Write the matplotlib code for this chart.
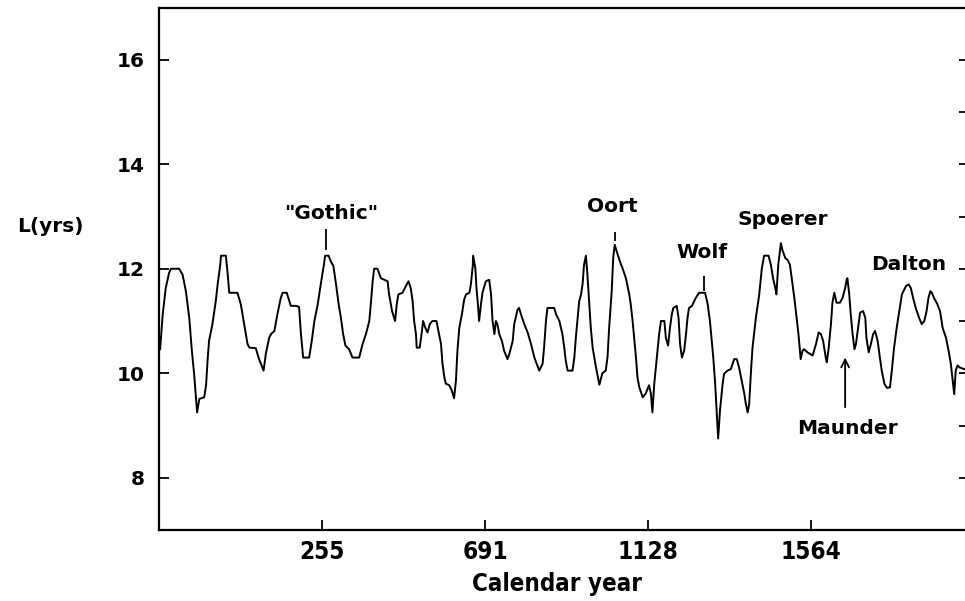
import matplotlib
matplotlib.use("Agg")
import matplotlib.pyplot as plt

# Solar cycle length L (years) against calendar year
years = [
    -179, -172, -164, -155, -150, -128, -119, -110, -101, -94, -88, -83, -80, -74,
    -61, -56, -52, -48, -39, -30, -25, -18, -16, -3, 2, 6, 28, 37, 46, 55, 60, 77,
    86, 98, 104, 113, 118, 127, 135, 144, 149, 160, 167, 171, 185,
    193, 198, 204, 220, 227, 234, 243, 251, 258, 263, 272, 278, 285, 292, 299, 305,
    311, 317, 327, 336, 354, 363, 372, 381, 385, 390, 394, 403, 412, 430, 434, 442,
    450, 455, 459, 470, 479, 486, 492, 497, 501, 506, 508, 516, 522, 525, 531, 537,
    543, 550, 561, 566, 573, 577, 582, 586, 595, 602, 608,
    613, 617, 622, 629, 635, 640, 649, 653, 658, 659, 665, 668, 673, 675, 680, 684,
    693, 702, 707, 711, 716, 720, 724, 729, 736, 742, 751, 756, 765, 769, 778, 782,
    787, 796, 805, 814, 823, 836, 845, 849, 854, 858, 876, 881, 890, 898, 903, 907,
    912, 925, 930, 934, 939, 943, 948, 952, 956, 961, 965, 970, 974, 979, 988, 997,
    1005, 1014, 1019, 1023, 1030, 1034, 1038,
    1046, 1055, 1059, 1068, 1077, 1081, 1086, 1090, 1095, 1099, 1104, 1113, 1121,
    1130, 1135, 1139, 1144, 1150, 1157, 1162, 1171, 1175, 1181, 1186, 1191, 1195,
    1204, 1209, 1213, 1218, 1224, 1229, 1233, 1237, 1245, 1251, 1255, 1264, 1280,
    1287, 1293, 1298, 1302, 1307, 1311, 1315, 1320, 1327, 1331, 1340, 1349, 1358,
    1365, 1371, 1378, 1385, 1389, 1394, 1398,
    1403, 1407, 1416, 1425, 1432, 1438, 1450, 1456, 1462, 1468, 1471, 1476, 1483,
    1487, 1495, 1501, 1507, 1512, 1519, 1525, 1530, 1536, 1541, 1545, 1554, 1568,
    1577, 1584, 1590, 1596, 1603, 1606, 1611, 1617, 1621, 1626, 1632, 1641, 1648,
    1655, 1659, 1661, 1666, 1670, 1675, 1680, 1684, 1691, 1695, 1703, 1709, 1712,
    1718, 1724, 1730, 1735, 1742, 1748, 1753, 1760, 1767, 1775, 1780, 1786, 1793,
    1800, 1807, 1818, 1825, 1831, 1837, 1844, 1853, 1860, 1867, 1873, 1878, 1883,
    1887, 1893, 1902, 1909, 1916, 1925, 1932, 1938, 1942, 1947, 1951, 1956, 1962,
    1974, 1985,
]
cycle_length = [
    10.46, 11.13, 11.63, 11.92, 12.00, 12.00, 11.89, 11.57, 11.06, 10.43, 9.99, 9.51,
    9.25, 9.51, 9.54, 9.77, 10.24, 10.62, 10.94, 11.38, 11.70, 12.08, 12.25, 12.25,
    11.89, 11.54, 11.54, 11.32, 10.94, 10.56, 10.49, 10.48, 10.27, 10.05, 10.37,
    10.68, 10.75, 10.81, 11.13, 11.44, 11.54, 11.54, 11.38, 11.29, 11.29,
    11.27, 10.75, 10.30, 10.30, 10.62, 11.00, 11.32, 11.70, 12.01, 12.25, 12.25,
    12.14, 12.05, 11.70, 11.32, 11.06, 10.75, 10.53, 10.46, 10.30, 10.30, 10.56,
    10.75, 11.00, 11.32, 11.76, 12.00, 12.00, 11.82, 11.76, 11.51, 11.19, 11.00,
    11.35, 11.51, 11.54, 11.67, 11.76, 11.63, 11.38, 11.00, 10.75, 10.49, 10.49,
    10.81, 11.00, 10.87, 10.78, 10.94, 11.00, 11.00, 10.81, 10.56, 10.18, 9.92,
    9.80, 9.77, 9.67, 9.52,
    9.86, 10.43, 10.87, 11.13, 11.41, 11.51, 11.54, 11.70, 12.05, 12.25, 12.01,
    11.63, 11.22, 11.00, 11.32, 11.54, 11.76, 11.79, 11.51, 11.00, 10.75, 11.00,
    10.94, 10.75, 10.62, 10.43, 10.27, 10.37, 10.62, 10.94, 11.22, 11.25, 11.13,
    10.94, 10.78, 10.56, 10.30, 10.05, 10.18, 10.49, 11.00, 11.25, 11.25, 11.13,
    11.00, 10.75, 10.49, 10.24, 10.05, 10.05, 10.30, 10.68, 11.06, 11.38, 11.51,
    11.70, 12.08, 12.25, 11.89, 11.32, 10.87, 10.49, 10.11, 9.78, 10.00, 10.05,
    10.32, 10.85, 11.57, 12.20, 12.46,
    12.27, 12.08, 12.01, 11.82, 11.51, 11.32, 11.00, 10.68, 10.30, 9.92, 9.73, 9.54,
    9.61, 9.77, 9.61, 9.25, 9.80, 10.24, 10.75, 11.00, 11.00, 10.68, 10.53, 10.87,
    11.13, 11.25, 11.29, 11.06, 10.56, 10.30, 10.43, 10.75, 11.06, 11.25, 11.29,
    11.38, 11.44, 11.54, 11.54, 11.32, 11.00, 10.62, 10.30, 9.80, 9.29, 8.75, 9.29,
    9.80, 9.99, 10.05, 10.08, 10.27, 10.27, 10.11, 9.86, 9.61, 9.42, 9.25, 9.40,
    10.05, 10.49, 11.06, 11.51, 12.01, 12.25, 12.25, 12.08, 11.82, 11.63, 11.51,
    12.08, 12.49, 12.36, 12.20, 12.17, 12.08, 11.82, 11.44, 11.06, 10.75, 10.27,
    10.43, 10.46, 10.40, 10.34, 10.56, 10.78, 10.75, 10.62, 10.30, 10.21, 10.49,
    10.94, 11.35, 11.54, 11.35, 11.35, 11.44, 11.63, 11.79, 11.82, 11.51, 11.13,
    10.75, 10.46, 10.56, 10.94, 11.16, 11.19, 11.06, 10.68, 10.40, 10.56, 10.75,
    10.81, 10.62, 10.30, 10.05, 9.80, 9.72, 9.73, 10.05, 10.49, 10.87, 11.19, 11.51,
    11.67, 11.70, 11.63, 11.44, 11.25, 11.06, 10.94, 11.00, 11.19, 11.44, 11.57,
    11.54, 11.44, 11.32, 11.19, 10.87, 10.68, 10.43, 10.18, 9.92, 9.60, 10.05,
    10.15, 10.11, 10.08, 10.05,
]

x_ticks = [255, 691, 1128, 1564]
y_ticks = [8, 10, 12, 14, 16]
y_right_ticks = [8, 9, 10, 11, 12, 13, 14, 15, 16]

fig = plt.figure(figsize=(9.65, 6.01), dpi=100)
ax = fig.add_axes([159 / 965, 71 / 601, 815 / 965, 522.5 / 601])

ax.plot(years, cycle_length, color="black", linewidth=1.4)
ax.set_xlim(-182, 2000)
ax.set_ylim(7, 17)

for spine in ax.spines.values():
    spine.set_linewidth(1.6)

ax.set_xticks(x_ticks)
ax.set_xticklabels([str(t) for t in x_ticks])
ax.set_yticks(y_ticks)
ax.tick_params(axis="x", direction="in", length=7, width=1.3, top=False, pad=7,
               labelsize=17.5)
ax.tick_params(axis="y", direction="in", length=7.5, width=1.3,
               left=True, right=False, pad=10, labelsize=14.5)
for lab in ax.get_xticklabels():
    lab.set_fontfamily("DejaVu Sans")
    lab.set_fontstretch("condensed")
    lab.set_fontweight("bold")
for lab in ax.get_yticklabels():
    lab.set_fontfamily("DejaVu Sans")
    lab.set_fontweight("bold")

# right-hand scale: unlabelled ticks at every year
right = ax.secondary_yaxis("right")
right.set_yticks(y_right_ticks)
right.tick_params(direction="in", length=11, width=1.3, labelright=False)
right.spines["right"].set_linewidth(1.6)

fig.text(50 / 965, 1 - 226 / 601, "L(yrs)", ha="center", va="center",
         fontsize=14.5, fontweight="bold", family="DejaVu Sans")
fig.text(557 / 965, 1 - 584 / 601, "Calendar year", ha="center", va="center",
         fontsize=17.3, fontweight="bold", fontstretch="condensed",
         family="DejaVu Sans")

# event labels with their pointer marks
label_kw = dict(ha="center", va="center", fontsize=14.5, fontweight="bold",
                family="DejaVu Sans")
ax.text(278, 13.06, '"Gothic"', **label_kw)
ax.text(1031, 13.19, "Oort", **label_kw)
ax.text(1272, 12.32, "Wolf", **label_kw)
ax.text(1489, 12.94, "Spoerer", **label_kw)
ax.text(1826, 12.09, "Dalton", **label_kw)
ax.text(1660, 8.95, "Maunder", **label_kw)

ax.vlines(266, 12.36, 12.77, color="black", linewidth=1.3)
ax.vlines(1038, 12.53, 12.71, color="black", linewidth=1.3)
ax.vlines(1278, 11.58, 11.86, color="black", linewidth=1.3)
ax.annotate("", xy=(1655, 10.30), xytext=(1655, 9.35),
            arrowprops=dict(arrowstyle="->", color="black", lw=1.3,
                            mutation_scale=14, shrinkA=0, shrinkB=0))

fig.savefig("out.png", dpi=100)
plt.close(fig)
